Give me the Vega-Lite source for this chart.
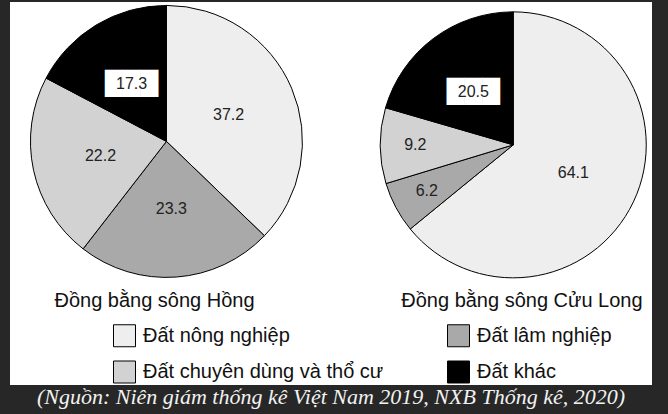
{
  "$schema": "https://vega.github.io/schema/vega-lite/v6.json",
  "width": 668,
  "height": 414,
  "autosize": {"type": "fit", "contains": "padding"},
  "padding": {"left": 10, "top": 2, "right": 16, "bottom": 6},
  "background": "#272727",
  "title": {
    "text": "(Nguồn: Niên giám thống kê Việt Nam 2019, NXB Thống kê, 2020)",
    "orient": "bottom",
    "offset": 2,
    "anchor": "middle",
    "font": "Liberation Serif",
    "fontSize": 22,
    "fontStyle": "italic",
    "fontWeight": "normal",
    "color": "#f2f2f2"
  },
  "datasets": {
    "land": [
      {"region": "Đồng bằng sông Hồng", "type": "Đất nông nghiệp", "idx": 1, "value": 37.2},
      {"region": "Đồng bằng sông Hồng", "type": "Đất lâm nghiệp", "idx": 2, "value": 23.3},
      {"region": "Đồng bằng sông Hồng", "type": "Đất chuyên dùng và thổ cư", "idx": 3, "value": 22.2},
      {"region": "Đồng bằng sông Hồng", "type": "Đất khác", "idx": 4, "value": 17.3},
      {"region": "Đồng bằng sông Cửu Long", "type": "Đất nông nghiệp", "idx": 1, "value": 64.1},
      {"region": "Đồng bằng sông Cửu Long", "type": "Đất lâm nghiệp", "idx": 2, "value": 6.2},
      {"region": "Đồng bằng sông Cửu Long", "type": "Đất chuyên dùng và thổ cư", "idx": 3, "value": 9.2},
      {"region": "Đồng bằng sông Cửu Long", "type": "Đất khác", "idx": 4, "value": 20.5}
    ],
    "regions": [
      {"region": "Đồng bằng sông Hồng"},
      {"region": "Đồng bằng sông Cửu Long"}
    ]
  },
  "data": {"name": "land"},
  "encoding": {
    "x": {
      "field": "region",
      "type": "nominal",
      "scale": {
        "type": "point",
        "domain": ["Đồng bằng sông Hồng", "Đồng bằng sông Cửu Long"],
        "padding": 0.4256,
        "align": 0.53
      },
      "axis": null
    }
  },
  "layer": [
    {
      "transform": [{"filter": "datum.region === 'Đồng bằng sông Hồng'"}],
      "encoding": {
        "y": {"datum": 63.6, "type": "quantitative", "scale": {"domain": [0, 100], "nice": false, "zero": false}, "axis": null},
        "theta": {"field": "value", "type": "quantitative", "stack": true},
        "order": {"field": "idx", "type": "quantitative"}
      },
      "layer": [
        {
          "mark": {"type": "arc", "outerRadius": 136, "stroke": "black", "strokeWidth": 1},
          "encoding": {
            "color": {
              "field": "type",
              "type": "nominal",
              "scale": {
                "domain": ["Đất nông nghiệp", "Đất lâm nghiệp", "Đất chuyên dùng và thổ cư", "Đất khác"],
                "range": ["#eeeeee", "#a9a9a9", "#d2d2d2", "#000000"]
              },
              "legend": {"orient": "none", "legendX": 103, "legendY": 322}
            }
          }
        },
        {
          "mark": {"type": "text", "radius": 67.5, "font": "DejaVu Sans", "fontSize": 23, "fill": "white"},
          "encoding": {
            "text": {"value": "███"},
            "opacity": {"condition": {"test": "datum.type === 'Đất khác'", "value": 1}, "value": 0}
          }
        },
        {
          "mark": {"type": "text", "radius": 67.5, "font": "Liberation Sans", "fontSize": 16, "fill": "#222222"},
          "encoding": {"text": {"field": "value", "type": "quantitative", "format": ".1f"}}
        }
      ]
    },
    {
      "transform": [{"filter": "datum.region === 'Đồng bằng sông Cửu Long'"}],
      "encoding": {
        "y": {"datum": 62.7, "type": "quantitative", "scale": {"domain": [0, 100], "nice": false, "zero": false}, "axis": null},
        "theta": {"field": "value", "type": "quantitative", "stack": true},
        "order": {"field": "idx", "type": "quantitative"}
      },
      "layer": [
        {
          "mark": {"type": "arc", "outerRadius": 133, "stroke": "black", "strokeWidth": 1},
          "encoding": {
            "color": {
              "field": "type",
              "type": "nominal",
              "scale": {
                "domain": ["Đất nông nghiệp", "Đất lâm nghiệp", "Đất chuyên dùng và thổ cư", "Đất khác"],
                "range": ["#eeeeee", "#a9a9a9", "#d2d2d2", "#000000"]
              },
              "legend": {"orient": "none", "legendX": 103, "legendY": 322}
            }
          }
        },
        {
          "mark": {"type": "text", "radius": 66.5, "font": "DejaVu Sans", "fontSize": 23, "fill": "white"},
          "encoding": {
            "text": {"value": "███"},
            "opacity": {"condition": {"test": "datum.type === 'Đất khác'", "value": 1}, "value": 0}
          }
        },
        {
          "mark": {"type": "text", "radius": 66.5, "font": "Liberation Sans", "fontSize": 16, "fill": "#222222"},
          "encoding": {
            "text": {"field": "value", "type": "quantitative", "format": ".1f"},
            "opacity": {"condition": {"test": "datum.value < 10", "value": 0}, "value": 1}
          }
        },
        {
          "mark": {"type": "text", "radius": 98, "font": "Liberation Sans", "fontSize": 16, "fill": "#222222"},
          "encoding": {
            "text": {"field": "value", "type": "quantitative", "format": ".1f"},
            "opacity": {"condition": {"test": "datum.value < 10", "value": 1}, "value": 0}
          }
        }
      ]
    },
    {
      "data": {"name": "regions"},
      "mark": {"type": "text", "align": "left", "baseline": "alphabetic", "dx": -112, "font": "Liberation Sans", "fontSize": 20, "fill": "#111111"},
      "encoding": {
        "y": {"datum": 20.4, "type": "quantitative", "scale": {"domain": [0, 100], "nice": false, "zero": false}, "axis": null},
        "text": {"field": "region", "type": "nominal"}
      }
    }
  ],
  "config": {
    "view": {"fill": "white", "stroke": null},
    "legend": {
      "title": null,
      "columns": 2,
      "direction": "horizontal",
      "symbolType": "square",
      "symbolSize": 484,
      "symbolStrokeColor": "black",
      "symbolStrokeWidth": 1,
      "symbolOpacity": 1,
      "labelFont": "Liberation Sans",
      "labelFontSize": 20,
      "labelColor": "#111111",
      "labelOffset": 7,
      "labelLimit": 400,
      "columnPadding": 61,
      "rowPadding": 9.5,
      "padding": 0
    }
  }
}
